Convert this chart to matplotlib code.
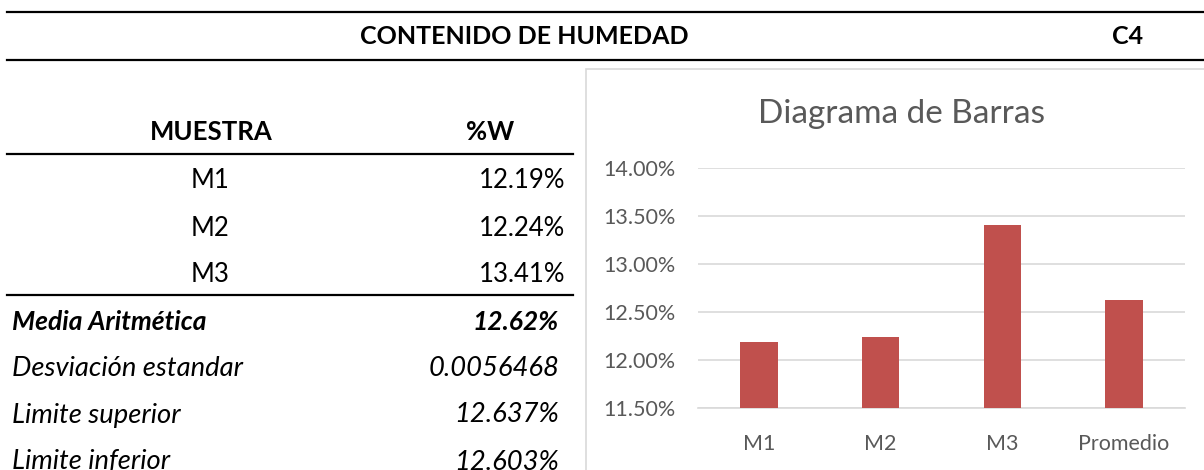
import matplotlib
matplotlib.use("Agg")
import matplotlib.pyplot as plt
from matplotlib.lines import Line2D
from matplotlib.patches import Rectangle
from matplotlib.ticker import FuncFormatter

plt.rcParams['font.family'] = ['Lato', 'DejaVu Sans']

# data
muestras = ['M1', 'M2', 'M3']
humedad = [12.19, 12.24, 13.41]
media = 12.62
desviacion = '0.0056468'
lim_sup = '12.637%'
lim_inf = '12.603%'
categorias = muestras + ['Promedio']
valores = humedad + [media]
y_ticks = [11.5, 12.0, 12.5, 13.0, 13.5, 14.0]

W, H = 1204, 470
fig = plt.figure(figsize=(W / 100, H / 100), dpi=100)
FS = 18.5


def fx(px):
    return px / W


def fy(py):
    return 1 - py / H


def hline(y, x0, x1, color='black', lw=1.6):
    fig.add_artist(Line2D([fx(x0), fx(x1)], [fy(y), fy(y)], color=color, lw=lw))


# header
hline(12, 7, 1204)
hline(60, 7, 1204)
fig.text(fx(524), fy(37), 'CONTENIDO DE HUMEDAD', ha='center', va='center',
         fontsize=FS - 0.5, fontweight='bold')
fig.text(fx(1128), fy(37), 'C4', ha='center', va='center', fontsize=FS - 0.5, fontweight='bold')

# table
fig.text(fx(211), fy(132), 'MUESTRA', ha='center', va='center', fontsize=FS, fontweight='bold')
fig.text(fx(490), fy(132), '%W', ha='center', va='center', fontsize=FS, fontweight='bold')
hline(154, 7, 573)
row_y = [181, 228, 275]
for m, v, y in zip(muestras, humedad, row_y):
    fig.text(fx(210), fy(y), m, ha='center', va='center', fontsize=FS)
    fig.text(fx(565), fy(y), f'{v:.2f}%', ha='right', va='center', fontsize=FS)
hline(295, 7, 573)
fig.text(fx(12), fy(322), 'Media Aritmética', ha='left', va='center', fontsize=FS + 0.5,
         fontweight='bold', style='italic')
fig.text(fx(559), fy(322), f'{media:.2f}%', ha='right', va='center', fontsize=FS + 0.5,
         fontweight='bold', style='italic')
# last row is cut by the bottom edge, as in the original sheet capture
extra = [('Desviación estandar', desviacion, 369),
         ('Limite superior', lim_sup, 415),
         ('Limite inferior', lim_inf, 462)]
for lab, val, y in extra:
    fig.text(fx(12), fy(y), lab, ha='left', va='center', fontsize=FS + 1.2, style='italic')
    fig.text(fx(559), fy(y), val, ha='right', va='center', fontsize=FS + 1.2, style='italic')

# chart box
fig.add_artist(Rectangle((fx(586), fy(475)), fx(640), (475 - 69) / H,
                         transform=fig.transFigure, fill=False, edgecolor='#D9D9D9', lw=1.2))

ax = fig.add_axes([fx(698), fy(408), fx(1185 - 698), (408 - 168) / H])
ax.bar(range(len(categorias)), valores, width=0.31, color='#C0504D', zorder=3)
ax.set_xlim(-0.5, len(categorias) - 0.5)
ax.set_ylim(11.5, 14.0)
ax.set_yticks(y_ticks)
ax.yaxis.set_major_formatter(FuncFormatter(lambda v, p: f'{v:.2f}%'))
ax.set_xticks(range(len(categorias)))
ax.set_xticklabels(categorias)
ax.grid(axis='y', color='#D9D9D9', lw=1.2, zorder=0)
for s in ax.spines.values():
    s.set_visible(False)
ax.spines['bottom'].set_visible(True)
ax.spines['bottom'].set_color('#D9D9D9')
ax.spines['bottom'].set_linewidth(1.2)
ax.tick_params(length=0, labelsize=15.5, colors='#595959')
ax.tick_params(axis='y', pad=16)
ax.tick_params(axis='x', pad=19)
ax.set_facecolor('none')
fig.text(fx(901), fy(114), 'Diagrama de Barras', ha='center', va='center',
         fontsize=24, color='#595959')

fig.savefig('out.png', dpi=100)
